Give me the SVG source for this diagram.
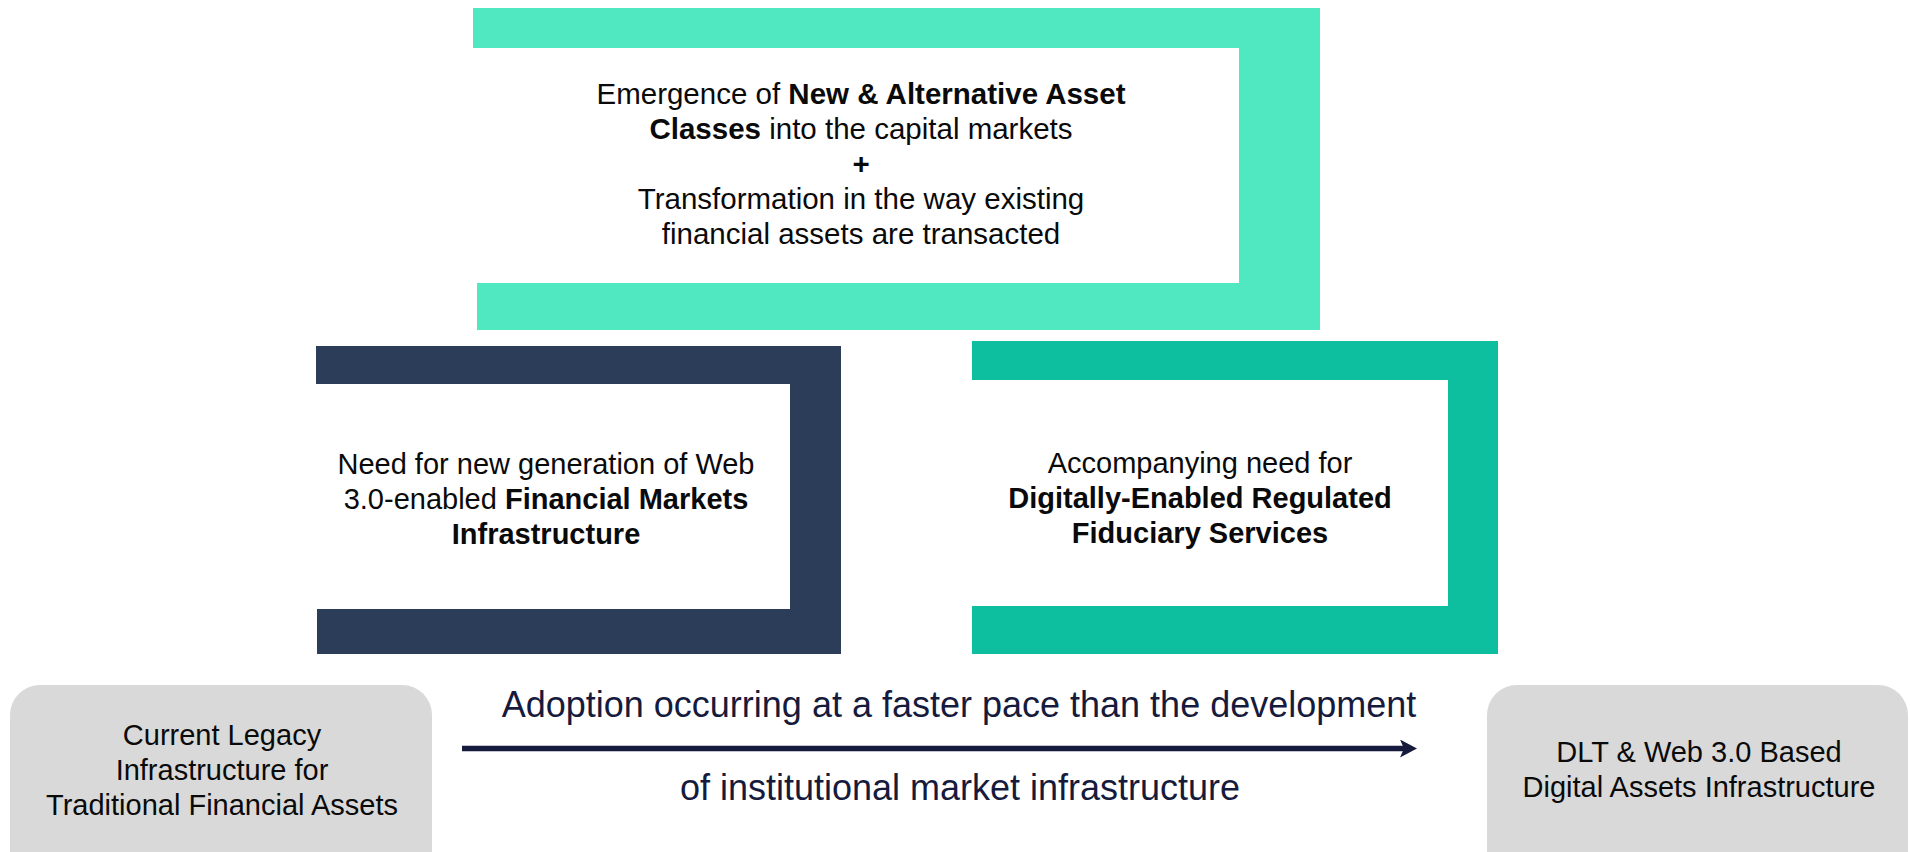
<svg xmlns="http://www.w3.org/2000/svg" width="1910" height="852" viewBox="0 0 1910 852">
<style>
.t{font-family:"Liberation Sans",Arial,Helvetica,sans-serif;font-size:29px;fill:#0a0a0a;text-anchor:middle}
.tt{font-size:29.5px}
.b{font-weight:bold}
.a{font-family:"Liberation Sans",Arial,Helvetica,sans-serif;font-size:36px;fill:#161b3d;text-anchor:middle}
.g{fill:#d9d9d9}
</style>
<defs>
<marker id="ah" viewBox="0 0 17 18" refX="4" refY="9" markerWidth="17" markerHeight="18" orient="auto" markerUnits="userSpaceOnUse">
<path d="M0,0 L17,9 L0,18 L4,9 Z" fill="#161b3d"/>
</marker>
</defs>
<rect width="1910" height="852" fill="#ffffff"/>
<g id="node-top">
<path d="M473,8 H1320 V330 H477 V283 H1239 V48 H473 Z" fill="#50e8c0"/>
<text class="t tt" x="861" y="104">Emergence of <tspan class="b">New &amp; Alternative Asset</tspan></text>
<text class="t tt" x="861" y="139"><tspan class="b">Classes</tspan> into the capital markets</text>
<text class="t tt b" x="861" y="174">+</text>
<text class="t tt" x="861" y="209">Transformation in the way existing</text>
<text class="t tt" x="861" y="244">financial assets are transacted</text>
</g>
<g id="node-fmi">
<path d="M316,346 H841 V654 H317 V609 H790 V384 H316 Z" fill="#2b3d58"/>
<text class="t" x="546" y="474">Need for new generation of Web</text>
<text class="t" x="546" y="509">3.0-enabled <tspan class="b">Financial Markets</tspan></text>
<text class="t b" x="546" y="544">Infrastructure</text>
</g>
<g id="node-fiduciary">
<path d="M972,341 H1498 V654 H972 V606 H1448 V380 H972 Z" fill="#0ebf9f"/>
<text class="t" x="1200" y="473">Accompanying need for</text>
<text class="t b" x="1200" y="508">Digitally-Enabled Regulated</text>
<text class="t b" x="1200" y="543">Fiduciary Services</text>
</g>
<g id="node-legacy">
<rect class="g" x="10" y="685" width="422" height="200" rx="30"/>
<text class="t" x="222" y="745">Current Legacy</text>
<text class="t" x="222" y="780">Infrastructure for</text>
<text class="t" x="222" y="815">Traditional Financial Assets</text>
</g>
<g id="node-dlt">
<rect class="g" x="1487" y="685" width="421" height="200" rx="30"/>
<text class="t" x="1699" y="762">DLT &amp; Web 3.0 Based</text>
<text class="t" x="1699" y="797">Digital Assets Infrastructure</text>
</g>
<g id="connectors">
<line x1="462" y1="748.5" x2="1404" y2="748.5" stroke="#161b3d" stroke-width="5.5" marker-end="url(#ah)"/>
<text class="a" x="959" y="717">Adoption occurring at a faster pace than the development</text>
<text class="a" x="960" y="800">of institutional market infrastructure</text>
</g>
</svg>
